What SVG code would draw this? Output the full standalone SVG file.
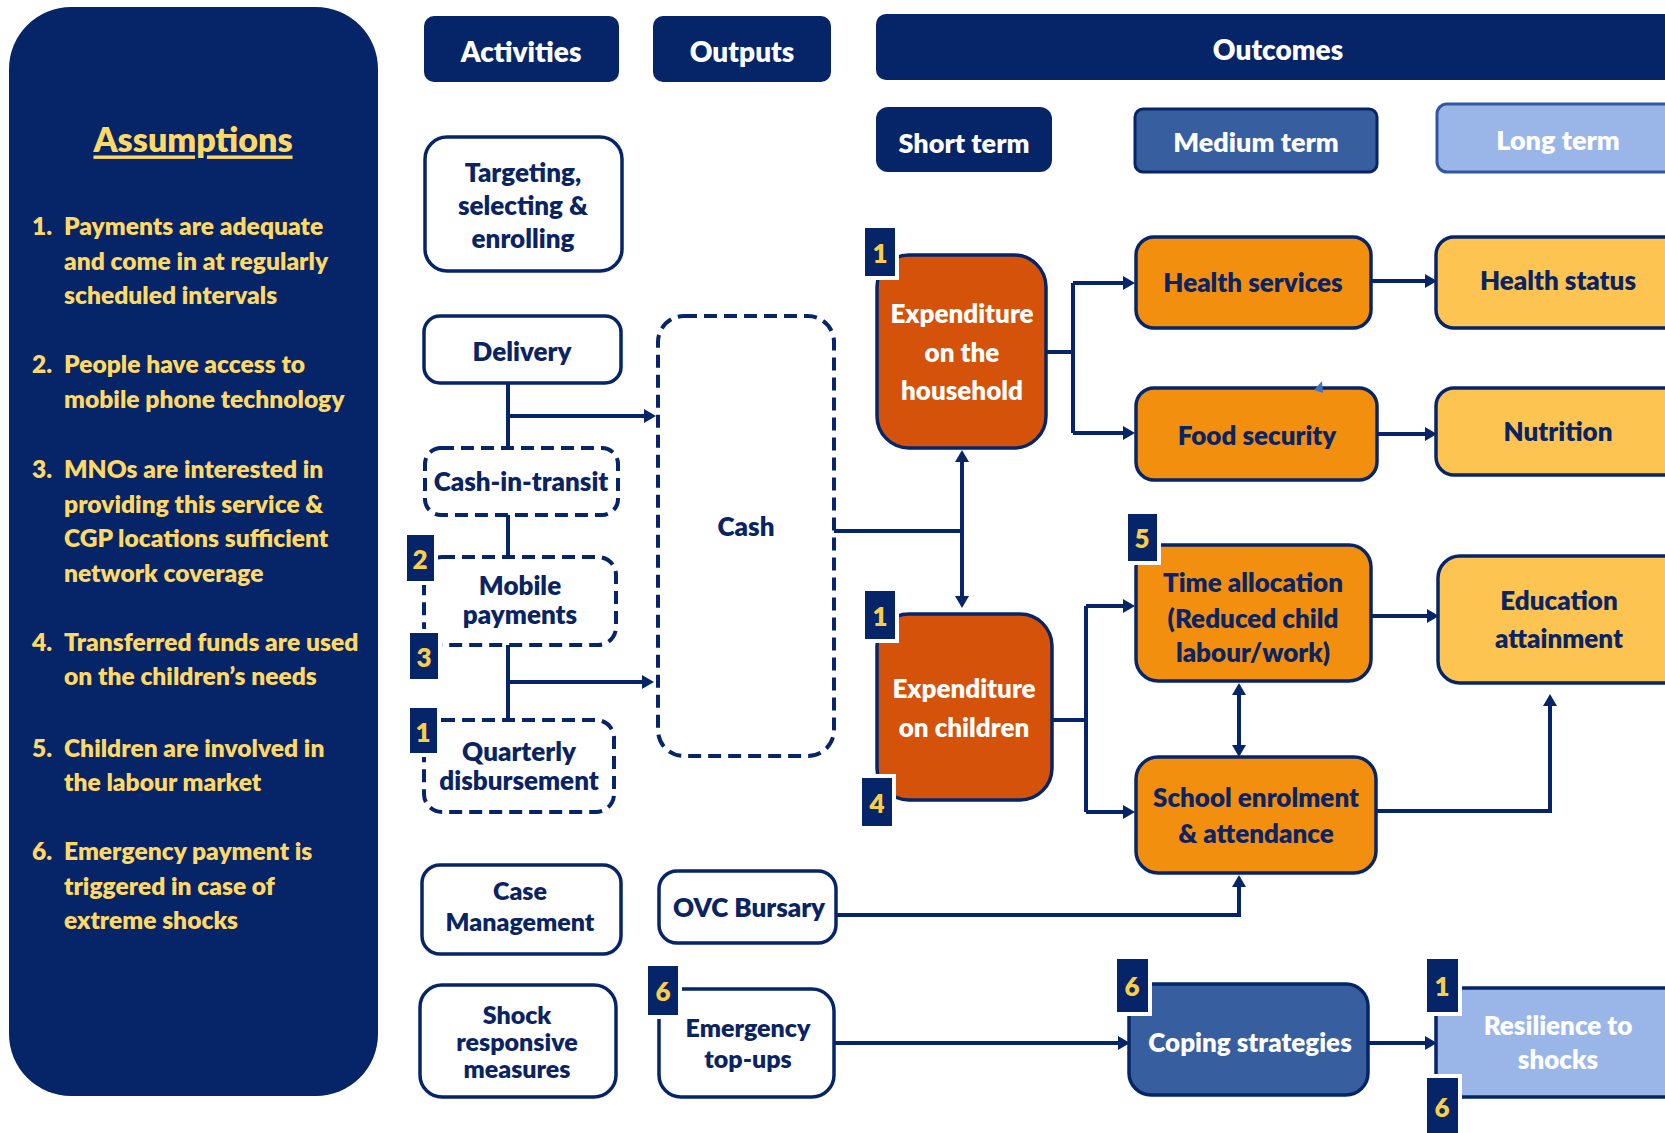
<svg xmlns="http://www.w3.org/2000/svg" width="1665" height="1133" viewBox="0 0 1665 1133">
  <style>
    .t { font-family: Lato, "Liberation Sans", sans-serif; font-weight: 800; text-anchor: middle; dominant-baseline: central; }
    .navy-t { fill: #0a2463; }
    .white-t { fill: #ffffff; }
    .hdr { fill: #062568; }
    .hdr-t { font-size: 28px; }
    .term-t { font-size: 27px; }
    .box { fill: #ffffff; stroke: #062568; stroke-width: 3.5; }
    .dash { fill: #ffffff; stroke: #062568; stroke-width: 4; stroke-dasharray: 13 7; }
    .box-t { font-size: 26px; }
    .ored { fill: #d45209; stroke: #062568; stroke-width: 3.5; }
    .orng { fill: #f38f0f; stroke: #062568; stroke-width: 3.5; }
    .yell { fill: #fec451; stroke: #062568; stroke-width: 3.5; }
    .mblue { fill: #375e9f; stroke: #062568; stroke-width: 3.5; }
    .lblue { fill: #9ab6e9; stroke: #062568; stroke-width: 3.5; }
    .out-t { font-size: 26px; }
    .badge { fill: #062568; stroke: #ffffff; stroke-width: 4; }
    .badge-t { font-size: 26px; fill: #f9cf4a; }
    .asm { font-family: Lato, "Liberation Sans", sans-serif; font-weight: 800; fill: #ffd966; font-size: 24.6px; dominant-baseline: central; }
    .conn { fill: none; stroke: #062568; stroke-width: 4; }
    .arr { marker-end: url(#head); }
    .arr2 { marker-start: url(#head); marker-end: url(#head); }
  </style>
  <defs>
    <marker id="head" viewBox="0 0 12 14" refX="0" refY="7" markerWidth="12" markerHeight="14" markerUnits="userSpaceOnUse" orient="auto-start-reverse">
      <path d="M0,0 L12,7 L0,14 z" fill="#062568"/>
    </marker>
  </defs>

  <rect width="1665" height="1133" fill="#ffffff"/>

  <!-- assumptions panel -->
  <g id="assumptions">
    <rect x="9" y="7" width="369" height="1089" rx="62" fill="#062568"/>
    <text class="t" x="193" y="138" font-size="34" fill="#ffd966" text-decoration="underline">Assumptions</text>
    <text class="asm">
      <tspan x="32" y="225">1.</tspan><tspan x="64" y="225">Payments are adequate</tspan>
      <tspan x="64" y="260">and come in at regularly</tspan>
      <tspan x="64" y="294">scheduled intervals</tspan>
      <tspan x="32" y="363">2.</tspan><tspan x="64" y="363">People have access to</tspan>
      <tspan x="64" y="398">mobile phone technology</tspan>
      <tspan x="32" y="468">3.</tspan><tspan x="64" y="468">MNOs are interested in</tspan>
      <tspan x="64" y="503">providing this service &amp;</tspan>
      <tspan x="64" y="537">CGP locations sufficient</tspan>
      <tspan x="64" y="572">network coverage</tspan>
      <tspan x="32" y="641">4.</tspan><tspan x="64" y="641">Transferred funds are used</tspan>
      <tspan x="64" y="675">on the children’s needs</tspan>
      <tspan x="32" y="747">5.</tspan><tspan x="64" y="747">Children are involved in</tspan>
      <tspan x="64" y="781">the labour market</tspan>
      <tspan x="32" y="850">6.</tspan><tspan x="64" y="850">Emergency payment is</tspan>
      <tspan x="64" y="885">triggered in case of</tspan>
      <tspan x="64" y="919">extreme shocks</tspan>
    </text>
  </g>

  <!-- column headers -->
  <g id="hdr-activities">
    <rect class="hdr" x="424" y="16" width="195" height="66" rx="10"/>
    <text class="t white-t hdr-t" x="521" y="51">Activities</text>
  </g>
  <g id="hdr-outputs">
    <rect class="hdr" x="653" y="16" width="178" height="66" rx="10"/>
    <text class="t white-t hdr-t" x="742" y="51">Outputs</text>
  </g>
  <g id="hdr-outcomes">
    <rect class="hdr" x="876" y="14" width="820" height="66" rx="10"/>
    <text class="t white-t hdr-t" x="1278" y="49">Outcomes</text>
  </g>
  <g id="hdr-short">
    <rect x="876" y="107" width="176" height="65" rx="12" fill="#062568"/>
    <text class="t white-t term-t" x="964" y="142">Short term</text>
  </g>
  <g id="hdr-medium">
    <rect x="1135" y="109" width="242" height="63" rx="8" fill="#375e9f" stroke="#062568" stroke-width="3"/>
    <text class="t white-t term-t" x="1256" y="141">Medium term</text>
  </g>
  <g id="hdr-long">
    <rect x="1437" y="104" width="260" height="68" rx="10" fill="#9ab6e9" stroke="#2f55a3" stroke-width="3"/>
    <text class="t white-t term-t" x="1558" y="139">Long term</text>
  </g>

  <!-- connectors -->
  <g id="connectors">
    <path class="conn" d="M508,383 V448"/>
    <path class="conn arr" d="M508,416 H644"/>
    <path class="conn" d="M508,515 V557"/>
    <path class="conn" d="M508,645 V720"/>
    <path class="conn arr" d="M508,682 H642"/>
    <path class="conn" d="M834,531 H962"/>
    <path class="conn arr2" d="M962,462 V596"/>
    <path class="conn" d="M1046,352 H1073"/>
    <path class="conn" d="M1073,283 V433"/>
    <path class="conn arr" d="M1073,283 H1123"/>
    <path class="conn arr" d="M1073,433 H1123"/>
    <path class="conn arr" d="M1371,281 H1425"/>
    <path class="conn arr" d="M1377,434 H1425"/>
    <path class="conn" d="M1052,720 H1086"/>
    <path class="conn" d="M1086,606 V812"/>
    <path class="conn arr" d="M1086,606 H1123"/>
    <path class="conn arr" d="M1086,812 H1123"/>
    <path class="conn arr" d="M1371,616 H1427"/>
    <path class="conn arr2" d="M1239,695 V745"/>
    <path class="conn arr" d="M1376,811 H1550 V706"/>
    <path class="conn arr" d="M836,915 H1239 V887"/>
    <path class="conn arr" d="M834,1043 H1118"/>
    <path class="conn arr" d="M1368,1043 H1425"/>
  </g>

  <!-- activities -->
  <g id="targeting">
    <rect class="box" x="425" y="137" width="197" height="134" rx="22"/>
    <text class="t navy-t box-t" x="523"><tspan x="523" y="172">Targeting,</tspan><tspan x="523" y="205">selecting &amp;</tspan><tspan x="523" y="238">enrolling</tspan></text>
  </g>
  <g id="delivery">
    <rect class="box" x="424" y="316" width="197" height="67" rx="16"/>
    <text class="t navy-t box-t" x="522" y="351">Delivery</text>
  </g>
  <g id="cash-in-transit">
    <rect class="dash" x="425" y="448" width="193" height="67" rx="16"/>
    <text class="t navy-t box-t" x="521" y="481">Cash-in-transit</text>
  </g>
  <g id="mobile-payments">
    <rect class="dash" x="424" y="557" width="192" height="88" rx="18"/>
    <text class="t navy-t box-t"><tspan x="520" y="585">Mobile</tspan><tspan x="520" y="614">payments</tspan></text>
  </g>
  <g id="quarterly">
    <rect class="dash" x="424" y="720" width="190" height="92" rx="18"/>
    <text class="t navy-t box-t"><tspan x="519" y="751">Quarterly</tspan><tspan x="519" y="780">disbursement</tspan></text>
  </g>
  <g id="case-management">
    <rect class="box" x="422" y="865" width="199" height="89" rx="18"/>
    <text class="t navy-t" font-size="25"><tspan x="520" y="890">Case</tspan><tspan x="520" y="921">Management</tspan></text>
  </g>
  <g id="shock-responsive">
    <rect class="box" x="420" y="985" width="196" height="112" rx="22"/>
    <text class="t navy-t" font-size="25"><tspan x="517" y="1014">Shock</tspan><tspan x="517" y="1041">responsive</tspan><tspan x="517" y="1068">measures</tspan></text>
  </g>

  <!-- outputs -->
  <g id="cash">
    <rect class="dash" x="658" y="316" width="176" height="440" rx="26"/>
    <text class="t navy-t box-t" x="746" y="526">Cash</text>
  </g>
  <g id="ovc-bursary">
    <rect class="box" x="659" y="871" width="177" height="72" rx="18"/>
    <text class="t navy-t box-t" x="749" y="907">OVC Bursary</text>
  </g>
  <g id="emergency">
    <rect class="box" x="659" y="989" width="175" height="108" rx="22"/>
    <text class="t navy-t" font-size="25"><tspan x="748" y="1027">Emergency</tspan><tspan x="748" y="1058">top-ups</tspan></text>
  </g>

  <!-- short-term outcomes -->
  <g id="exp-household">
    <rect class="ored" x="877" y="255" width="169" height="193" rx="32"/>
    <text class="t white-t out-t"><tspan x="962" y="313">Expenditure</tspan><tspan x="962" y="352">on the</tspan><tspan x="962" y="390">household</tspan></text>
  </g>
  <g id="exp-children">
    <rect class="ored" x="877" y="614" width="175" height="186" rx="32"/>
    <text class="t white-t out-t"><tspan x="964" y="688">Expenditure</tspan><tspan x="964" y="727">on children</tspan></text>
  </g>

  <!-- medium-term outcomes -->
  <g id="health-services">
    <rect class="orng" x="1136" y="237" width="235" height="91" rx="18"/>
    <text class="t navy-t out-t" x="1253" y="282">Health services</text>
  </g>
  <g id="food-security">
    <rect class="orng" x="1136" y="388" width="241" height="92" rx="18"/>
    <path d="M1322,381 L1314,390 L1323,393 z" fill="#4472c4"/>
    <text class="t navy-t out-t" x="1257" y="435">Food security</text>
  </g>
  <g id="time-allocation">
    <rect class="orng" x="1136" y="545" width="235" height="136" rx="22"/>
    <text class="t navy-t out-t"><tspan x="1253" y="582">Time allocation</tspan><tspan x="1253" y="618">(Reduced child</tspan><tspan x="1253" y="652">labour/work)</tspan></text>
  </g>
  <g id="school-enrolment">
    <rect class="orng" x="1136" y="757" width="240" height="116" rx="22"/>
    <text class="t navy-t out-t"><tspan x="1256" y="797">School enrolment</tspan><tspan x="1256" y="833">&amp; attendance</tspan></text>
  </g>
  <g id="coping">
    <rect class="mblue" x="1129" y="984" width="239" height="111" rx="22"/>
    <text class="t white-t out-t" x="1250" y="1042">Coping strategies</text>
  </g>

  <!-- long-term outcomes -->
  <g id="health-status">
    <rect class="yell" x="1436" y="237" width="260" height="91" rx="18"/>
    <text class="t navy-t out-t" x="1558" y="280">Health status</text>
  </g>
  <g id="nutrition">
    <rect class="yell" x="1436" y="388" width="260" height="87" rx="18"/>
    <text class="t navy-t out-t" x="1558" y="431">Nutrition</text>
  </g>
  <g id="education">
    <rect class="yell" x="1438" y="556" width="258" height="127" rx="22"/>
    <text class="t navy-t out-t"><tspan x="1559" y="600">Education</tspan><tspan x="1559" y="638">attainment</tspan></text>
  </g>
  <g id="resilience">
    <rect class="lblue" x="1436" y="988" width="260" height="109" rx="18"/>
    <text class="t white-t out-t"><tspan x="1558" y="1025">Resilience to</tspan><tspan x="1558" y="1059">shocks</tspan></text>
  </g>

  <!-- numbered assumption tags -->
  <g id="tag-household-1">
    <rect class="badge" x="863" y="226" width="34" height="52"/>
    <text class="t badge-t" x="880" y="253">1</text>
  </g>
  <g id="tag-children-1">
    <rect class="badge" x="863" y="589" width="34" height="52"/>
    <text class="t badge-t" x="880" y="616">1</text>
  </g>
  <g id="tag-children-4">
    <rect class="badge" x="860" y="776" width="34" height="52"/>
    <text class="t badge-t" x="877" y="803">4</text>
  </g>
  <g id="tag-time-5">
    <rect class="badge" x="1126" y="512" width="33" height="51"/>
    <text class="t badge-t" x="1142" y="538">5</text>
  </g>
  <g id="tag-mobile-2">
    <rect class="badge" x="405" y="533" width="31" height="50"/>
    <text class="t badge-t" x="420" y="559">2</text>
  </g>
  <g id="tag-mobile-3">
    <rect class="badge" x="408" y="631" width="32" height="50"/>
    <text class="t badge-t" x="424" y="657">3</text>
  </g>
  <g id="tag-quarterly-1">
    <rect class="badge" x="408" y="706" width="31" height="49"/>
    <text class="t badge-t" x="423" y="732">1</text>
  </g>
  <g id="tag-emergency-6">
    <rect class="badge" x="646" y="964" width="34" height="53"/>
    <text class="t badge-t" x="663" y="991">6</text>
  </g>
  <g id="tag-coping-6">
    <rect class="badge" x="1115" y="957" width="35" height="57"/>
    <text class="t badge-t" x="1132" y="986">6</text>
  </g>
  <g id="tag-resilience-1">
    <rect class="badge" x="1425" y="957" width="35" height="57"/>
    <text class="t badge-t" x="1442" y="986">1</text>
  </g>
  <g id="tag-resilience-6">
    <rect class="badge" x="1425" y="1076" width="35" height="60"/>
    <text class="t badge-t" x="1442" y="1107">6</text>
  </g>
</svg>
